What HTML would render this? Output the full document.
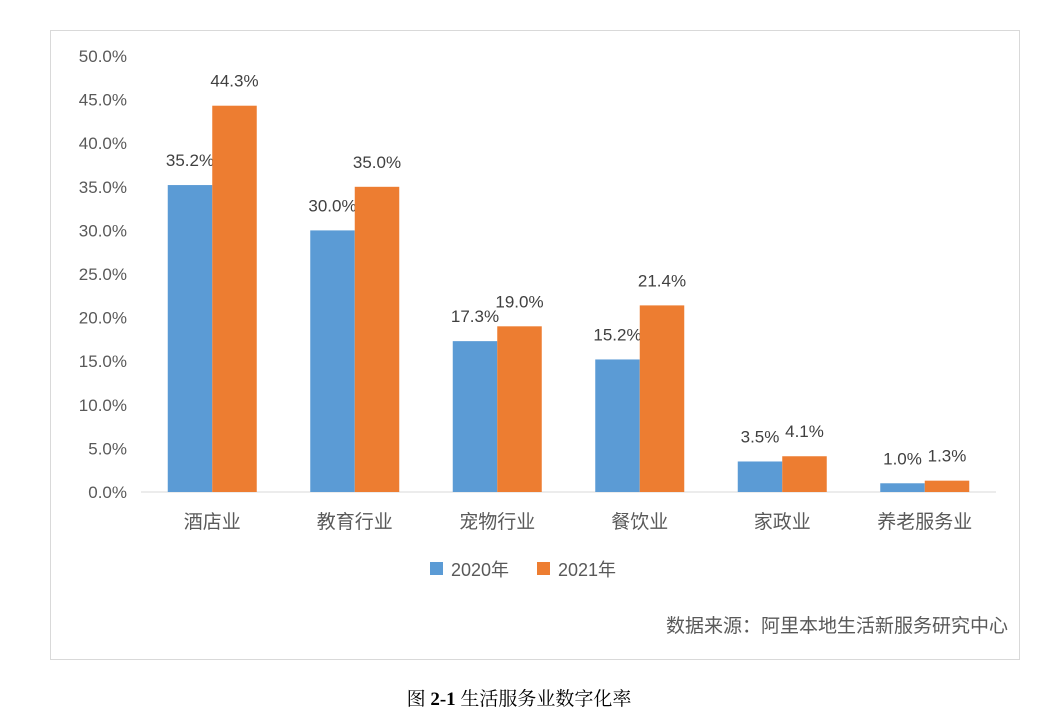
<!DOCTYPE html>
<html><head><meta charset="utf-8">
<style>
body{margin:0;width:1038px;height:720px;background:#fff;font-family:"Liberation Sans","Noto Sans CJK SC",sans-serif;overflow:hidden}
#frame{position:absolute;left:50px;top:30px;width:970px;height:630px;border:1px solid #d9d9d9;box-sizing:border-box}
svg{position:absolute;left:0;top:0}
#caption{position:absolute;top:684px;left:0;width:1038px;text-align:center;font-size:19px;color:#000;font-family:"Liberation Serif","Noto Serif CJK SC",serif}
</style></head><body>
<div id="frame"></div>
<svg id="chart" width="1038" height="720"></svg>
<div id="caption">图 <b>2-1</b> 生活服务业数字化率</div>
<script>
const categories=["酒店业","教育行业","宠物行业","餐饮业","家政业","养老服务业"];
const series2020=[35.2,30.0,17.3,15.2,3.5,1.0];
const series2021=[44.3,35.0,19.0,21.4,4.1,1.3];
const seriesNames=["2020年","2021年"];
const yTicks=[0,5,10,15,20,25,30,35,40,45,50];
const NS="http://www.w3.org/2000/svg";
const svg=document.getElementById('chart');
const x0=141,x1=996,y0=492,y1=56,yMax=50;
const colors=["#5B9BD5","#ED7D31"];
const y=v=>y0-(v/yMax)*(y0-y1);
const step=(x1-x0)/categories.length;
const xc=i=>x0+step*(i+0.5);
function mk(tag,attrs,txt){const e=document.createElementNS(NS,tag);for(const k in attrs)e.setAttribute(k,attrs[k]);if(txt!==undefined)e.textContent=txt;svg.appendChild(e);return e;}
yTicks.forEach(t=>{
  const e=mk('text',{x:127,y:y(t)+6,'text-anchor':'end','font-size':17,fill:'#595959'},t.toFixed(1)+'%');
  
  
});
const ax=mk('line',{x1:x0,x2:x1,y1:y0,y2:y0,stroke:'#d9d9d9','stroke-width':1});


const bw=44.5;
[series2020,series2021].forEach((s,si)=>{
  s.forEach((v,i)=>{
    const bx=xc(i)-bw+si*bw;
    const r=mk('rect',{x:bx,y:y(v),width:bw,height:y0-y(v),fill:colors[si]});
    
    
    const l=mk('text',{x:bx+bw/2,y:y(v)-19,'text-anchor':'middle','font-size':17,fill:'#404040'},v.toFixed(1)+'%');
    
    
  });
});
categories.forEach((c,i)=>{
  const e=mk('text',{x:xc(i),y:528,'text-anchor':'middle','font-size':19,fill:'#595959'},c);
  
  
});
[[430,451],[537,558]].forEach((p,i)=>{
  const r=mk('rect',{x:p[0],y:562,width:13,height:13,fill:colors[i]});
  
  
  const t=mk('text',{x:p[1],y:576,'font-size':18,fill:'#595959'},seriesNames[i]);
  
  
});
const src=mk('text',{x:1008,y:632,'text-anchor':'end','font-size':19,fill:'#595959'},'数据来源：阿里本地生活新服务研究中心');


</script>
</body></html>
